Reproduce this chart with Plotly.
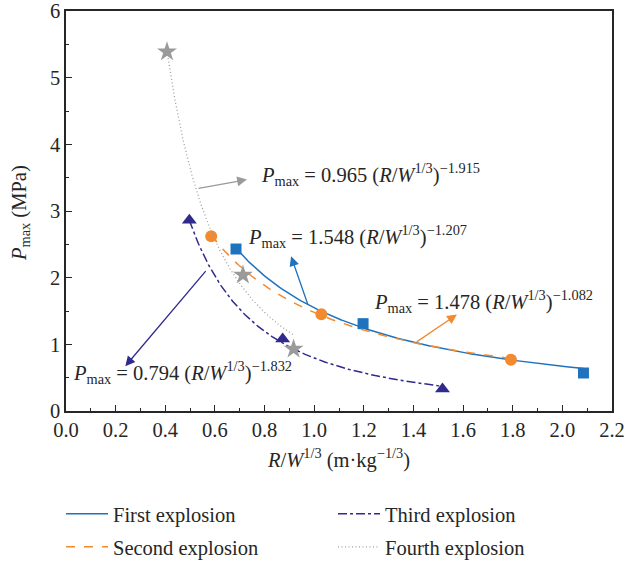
import numpy as np
import plotly.graph_objects as go

# Scaled distance R/W^(1/3) (m·kg^-1/3) and peak overpressure Pmax (MPa) per blast
first_x = [0.685, 1.197, 2.085]
first_y = [2.43, 1.31, 0.57]
second_x = [0.585, 1.029, 1.793]
second_y = [2.62, 1.45, 0.77]
third_x = [0.497, 0.873, 1.517]
third_y = [2.86, 1.08, 0.33]
fourth_x = [0.407, 0.713, 0.917]
fourth_y = [5.39, 2.04, 0.93]

# Power-law fits  Pmax = a (R/W^1/3)^b
fit_a = [1.548, 1.478, 0.794, 0.965]
fit_b = [-1.207, -1.082, -1.832, -1.915]

names = ["First explosion", "Second explosion", "Third explosion", "Fourth explosion"]
colors = ["#1f72bd", "#f28a30", "#2f2a8c", "#9a9a9a"]
line_colors = ["#1f72bd", "#f28a30", "#2f2a8c", "#a0a0a0"]
dashes = ["solid", "dash", "dashdot", "1px,2.5px"]
widths = [1.5, 1.5, 1.5, 1.3]
symbols = ["square", "circle", "triangle-up", "star"]
msizes = [11, 12, 13, 15]
xs = [first_x, second_x, third_x, fourth_x]
ys = [first_y, second_y, third_y, fourth_y]

FONT = "Liberation Serif"
FS = 20.5
TEXT = "#262626"
fig = go.Figure()

# one single-entry legend per series, laid out in two columns below the axes
legend_pos = [(61 / 624, 1 - 514 / 561), (61 / 624, 1 - 547 / 561),
              (333 / 624, 1 - 514 / 561), (333 / 624, 1 - 547 / 561)]

for i in range(4):
    xf = np.linspace(min(xs[i]), max(xs[i]), 200)
    yf = fit_a[i] * xf ** fit_b[i]
    lg = "legend" if i == 0 else f"legend{i + 1}"
    fig.add_trace(go.Scatter(
        x=xf, y=yf, mode="lines", name=names[i], legend=lg,
        line=dict(color=line_colors[i], width=widths[i], dash=dashes[i]),
    ))
    fig.add_trace(go.Scatter(
        x=xs[i], y=ys[i], mode="markers", showlegend=False,
        marker=dict(symbol=symbols[i], size=msizes[i], color=colors[i], line=dict(width=0)),
    ))

legend_common = dict(
    font=dict(family=FONT, size=FS, color=TEXT),
    bgcolor="rgba(0,0,0,0)", xanchor="left", yanchor="middle",
    itemwidth=42, tracegroupgap=0,
)
layout_legends = {}
for i in range(4):
    key = "legend" if i == 0 else f"legend{i + 1}"
    lx, ly = legend_pos[i]
    layout_legends[key] = dict(legend_common, x=lx, y=ly, xref="container", yref="container")

# Fit equations and their pointer arrows
eq_text = [
    "<i>P</i><sub>max</sub> = 1.548 (<i>R</i>/<i>W</i><sup>1/3</sup>)<sup>\u22121.207</sup>",
    "<i>P</i><sub>max</sub> = 1.478 (<i>R</i>/<i>W</i><sup>1/3</sup>)<sup>\u22121.082</sup>",
    "<i>P</i><sub>max</sub> = 0.794 (<i>R</i>/<i>W</i><sup>1/3</sup>)<sup>\u22121.832</sup>",
    "<i>P</i><sub>max</sub> = 0.965 (<i>R</i>/<i>W</i><sup>1/3</sup>)<sup>\u22121.915</sup>",
]
eq_pos = [(0.725, 2.62), (1.232, 1.646), (0.022, 0.58), (0.778, 3.546)]
arrow_tail = [(0.977, 1.571), (1.407, 1.022), (0.568, 2.121), (0.528, 3.336)]
arrow_tip = [(0.907, 2.321), (1.575, 1.447), (0.239, 0.672), (0.729, 3.471)]

for i in range(4):
    fig.add_annotation(
        x=eq_pos[i][0], y=eq_pos[i][1], xref="x", yref="y", text=eq_text[i],
        showarrow=False, xanchor="left", yanchor="middle",
        font=dict(family=FONT, size=FS, color=TEXT),
    )
    fig.add_annotation(
        x=arrow_tip[i][0], y=arrow_tip[i][1], ax=arrow_tail[i][0], ay=arrow_tail[i][1],
        xref="x", yref="y", axref="x", ayref="y", text="",
        showarrow=True, arrowhead=2, arrowsize=1.5, arrowwidth=1.3,
        arrowcolor=colors[i], standoff=0, startstandoff=0,
    )

# y-axis title
fig.add_annotation(
    x=-46 / 546, y=0.495, xref="paper", yref="paper",
    text="<i>P</i><sub>max</sub> (MPa)", textangle=-90, showarrow=False,
    xanchor="center", yanchor="middle",
    font=dict(family=FONT, size=FS, color=TEXT),
)

axis_common = dict(
    showgrid=False, zeroline=False, showline=True, mirror=True,
    linecolor=TEXT, linewidth=1.5,
    ticks="inside", ticklen=6, tickwidth=1.2, tickcolor=TEXT,
    tickfont=dict(family=FONT, size=FS, color=TEXT),
    ticklabeloverflow="allow",
)
minor_common = dict(ticks="inside", ticklen=3.5, tickwidth=1.2, tickcolor=TEXT)

fig.update_layout(
    width=624, height=561,
    margin=dict(l=66, r=12, t=11, b=150, autoexpand=False),
    paper_bgcolor="white", plot_bgcolor="white",
    xaxis=dict(axis_common, range=[0, 2.2], dtick=0.2, tickformat=".1f",
               minor=dict(minor_common, dtick=0.1),
               title=dict(text="<i>R</i>/<i>W</i><sup>1/3</sup> (m\u00b7kg<sup>\u22121/3</sup>)",
                          font=dict(family=FONT, size=FS, color=TEXT), standoff=12)),
    yaxis=dict(axis_common, range=[0, 6], dtick=1,
               minor=dict(minor_common, dtick=0.5)),
    **layout_legends,
)

fig.write_html("out.html")
